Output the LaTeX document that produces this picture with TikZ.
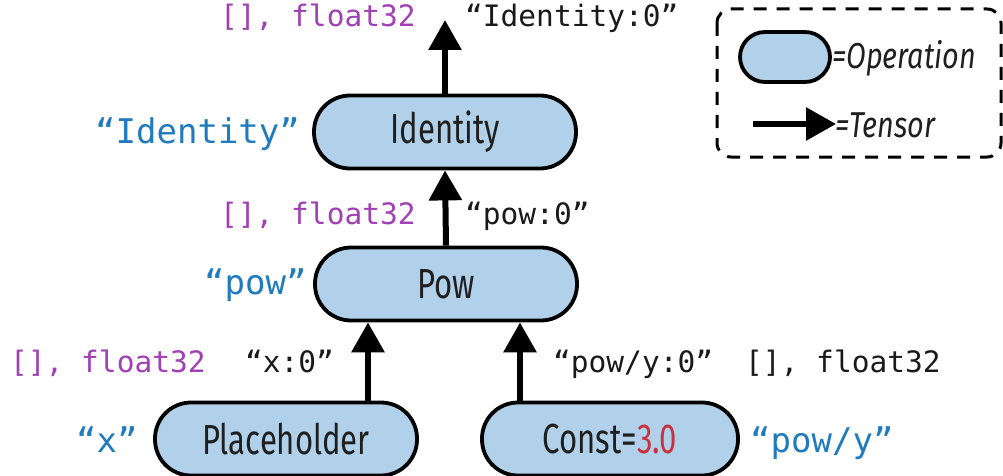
\documentclass[tikz,border=0pt]{standalone}
\usepackage{fontspec}
\usetikzlibrary{arrows.meta}
\newfontfamily\opfont[FakeStretch=0.74]{Fira Sans}
\newfontfamily\legfont[FakeStretch=0.8]{Fira Sans}
\newfontfamily\codefont{DejaVu Sans Mono}
\definecolor{opfill}{HTML}{B0D1E9}
\definecolor{shapecol}{HTML}{A040B4}
\definecolor{namecol}{HTML}{1F7BBE}
\definecolor{valcol}{HTML}{C8323F}
\definecolor{tenscol}{HTML}{1A1A1A}
\tikzset{
  opnode/.style={draw=black, line width=3.8pt, fill=opfill, rounded corners=36pt,
    minimum width=262pt, minimum height=73pt, inner sep=0pt,
    font=\opfont\fontsize{42}{44}\selectfont, text=black!88},
  tensor/.style={line width=6pt, -{Triangle[width=32pt,length=30pt]}},
  shapelbl/.style={anchor=base west, inner sep=0pt, text=shapecol, font=\codefont\fontsize{29.5}{31}\selectfont},
  tenslbl/.style={anchor=base west, inner sep=0pt, text=tenscol, font=\codefont\fontsize{29.5}{31}\selectfont},
  namelbl/.style={anchor=base west, inner sep=0pt, text=namecol, font=\codefont\fontsize{34}{36}\selectfont},
  legtxt/.style={anchor=west, inner sep=0pt, text=black!88, font=\legfont\itshape\fontsize{36}{38}\selectfont},
}
\begin{document}
\begin{tikzpicture}[x=1pt,y=-1pt]
\useasboundingbox (0,0) rectangle (1003,476);
% operations
\node[opnode] (ident) at (445,132) {Identity};
\node[opnode] (pow) at (446,284) {Pow};
\node[opnode] (ph) at (286,439) {Placeholder};
\node[opnode, minimum width=256pt] (const) at (610,439) {Const=\textcolor{valcol}{3.0}};
\coordinate (out) at (445,20);
% tensors
\draw[tensor] (ident.north) -- (out);
\draw[tensor] (pow.north) -- (ident.south);
\draw[tensor] (ph.north -| 368,0) -- (pow.south -| 368,0);
\draw[tensor] (const.north -| 520,0) -- (pow.south -| 520,0);
% labels
\node[shapelbl] (s1) at (220,27) {[], float32};
\node[tenslbl] (t1) at (465,27) {“Identity:0”};
\node[namelbl] (n1) at (95,143) {“Identity”};
\node[shapelbl] (s2) at (220,224) {[], float32};
\node[tenslbl] (t2) at (465,224) {“pow:0”};
\node[namelbl] (n2) at (204,294) {“pow”};
\node[shapelbl] (s3) at (10,372) {[], float32};
\node[tenslbl] (t3) at (245,372) {“x:0”};
\node[tenslbl] (t4) at (553,372) {“pow/y:0”};
\node[tenslbl] (s4) at (745,372) {[], float32};
\node[namelbl] (n3) at (76,452) {“x”};
\node[namelbl] (n4) at (750,452) {“pow/y”};
% legend
\draw[line width=3pt, dash pattern=on 13pt off 10pt, rounded corners=14pt] (717,9) rectangle (1001,157);
\node[draw=black, line width=3.8pt, fill=opfill, rounded corners=25pt, minimum width=90pt, minimum height=50pt] (legop) at (785,57) {};
\node[legtxt] (legoptxt) at (832,58) {=Operation};
\coordinate (la) at (753,124);
\coordinate (lb) at (836,124);
\draw[tensor] (la) -- (lb);
\node[legtxt] (legtstxt) at (835,125) {=Tensor};
\end{tikzpicture}
\end{document}
